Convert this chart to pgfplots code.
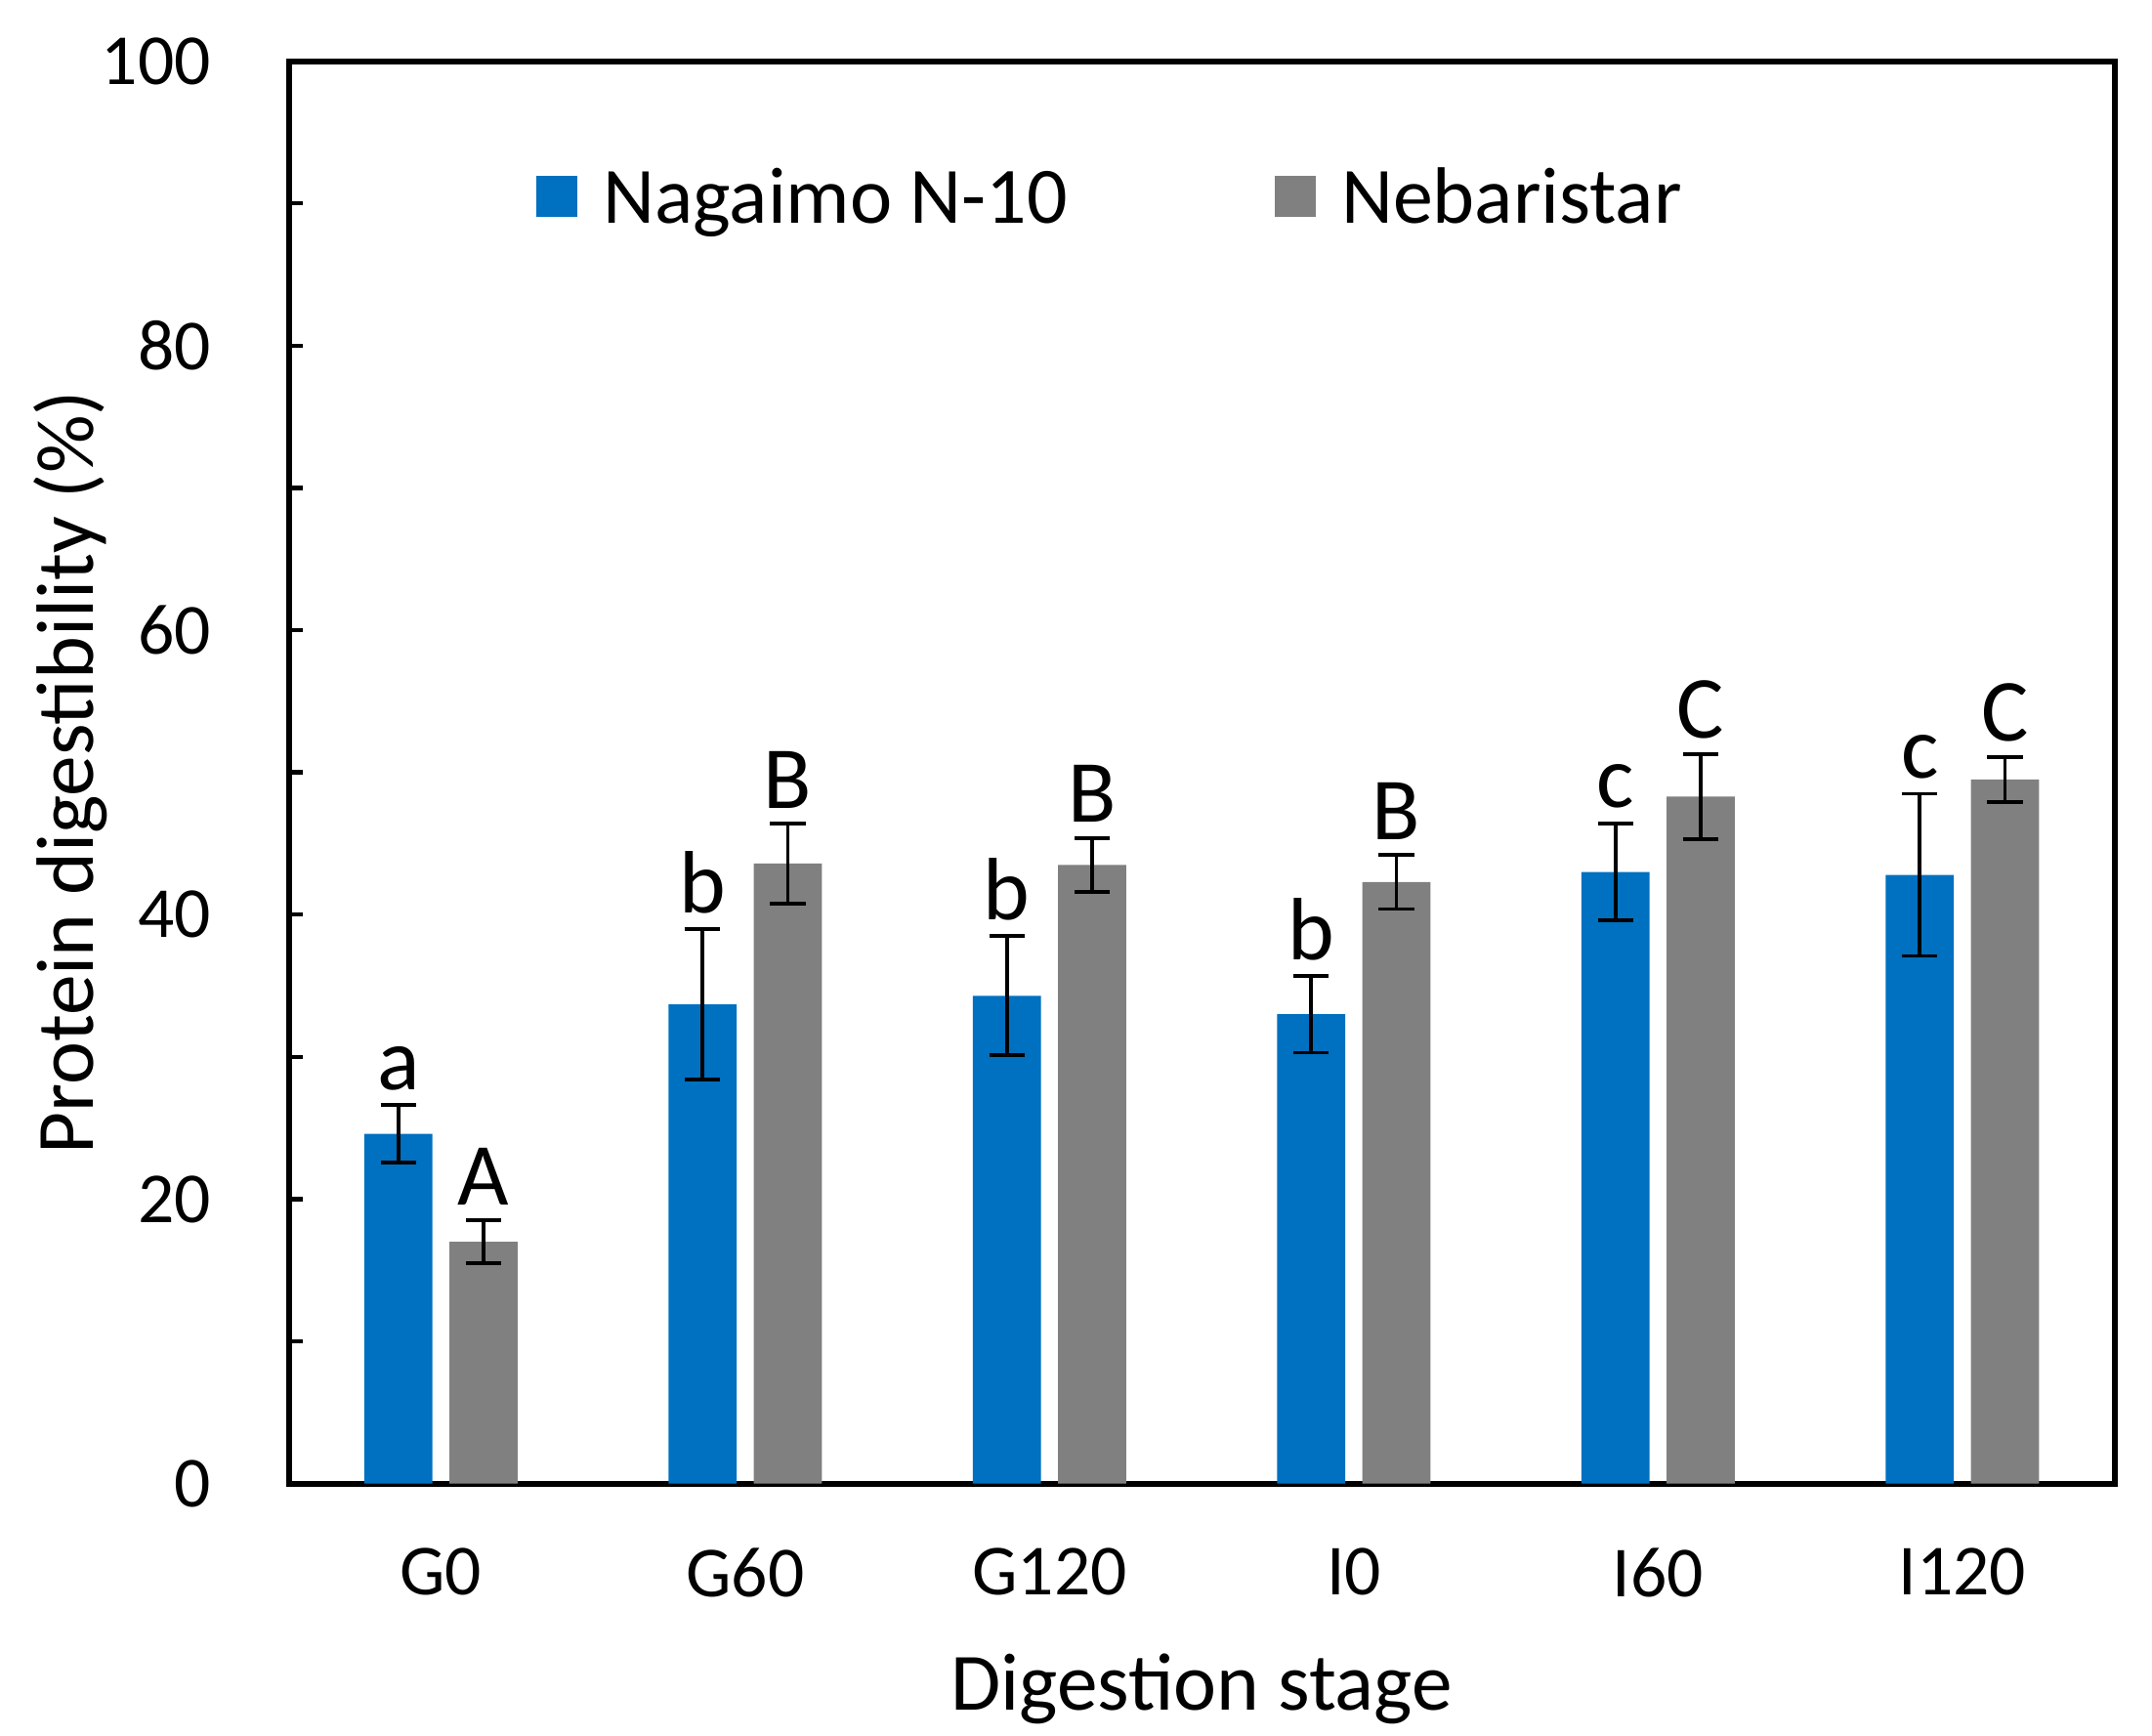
\documentclass[border=0pt]{standalone}
\usepackage{pgfplots}
\usepackage{pgfplotstable}
\usepackage{fontspec}
\setmainfont{Carlito}
\pgfplotsset{compat=1.18}

\definecolor{nagblue}{HTML}{0070C0}
\definecolor{nebgray}{HTML}{808080}

% stage index, mean, error, letter
\pgfplotstableread{
x y err lab
0 24.6 2.0 a
1 33.7 5.3 b
2 34.3 4.2 b
3 33.0 2.7 b
4 43.0 3.4 c
5 42.8 5.7 c
}\nagaimo
\pgfplotstableread{
x y err lab
0 17.0 1.5 A
1 43.6 2.8 B
2 43.5 1.9 B
3 42.3 1.9 B
4 48.3 3.0 C
5 49.5 1.6 C
}\nebaristar

\begin{document}
\begin{tikzpicture}
\begin{axis}[
  name=ax,
  width=13.4cm, height=10.44cm,
  scale only axis,
  xmin=-0.5, xmax=5.5,
  ymin=0, ymax=100,
  xtick={0,1,2,3,4,5},
  xticklabels={G0,G60,G120,I0,I60,I120},
  ytick={0,20,40,60,80,100},
  minor ytick={10,30,50,70,90},
  ytick pos=left,
  xtick style={draw=none},
  tick align=inside,
  major tick length=0.1cm,
  minor tick length=0.1cm,
  every tick/.style={black, line width=0.9pt},
  axis line style={line width=1.2pt},
  /pgf/number format/assume math mode=true,
  tick label style={font=\fontsize{15}{17}\selectfont},
  yticklabel style={xshift=-0.45cm},
  xticklabel style={yshift=-0.35cm},
  xlabel={Digestion stage},
  ylabel={Protein digestibility (\%)},
  label style={font=\fontsize{17}{20}\selectfont, inner sep=0pt},
  xlabel style={yshift=-0.29cm},
  ylabel style={yshift=-0.17cm},
  legend columns=2,
  legend style={at={(0.452,0.903)}, anchor=center, draw=none, fill=none,
    font=\fontsize{16.7}{20}\selectfont,
    /tikz/every odd column/.append style={column sep=0.12cm},
    /tikz/every even column/.append style={column sep=1.45cm}},
  legend image code/.code={\fill[#1] (0cm,-0.13cm) rectangle (0.3cm,0.17cm);},
  error bars/error bar style={black, line width=0.8pt},
  error bars/error mark options={rotate=90, black, mark size=0.13cm, line width=0.8pt},
]
\addplot[ybar, bar width=0.224, bar shift=0, fill=nagblue, draw=none,
  error bars/.cd, y dir=both, y explicit]
  table[x expr=\thisrow{x}-0.14, y=y, y error=err] {\nagaimo};
\addlegendentry{Nagaimo N-10}
\addplot[ybar, bar width=0.224, bar shift=0, fill=nebgray, draw=none,
  error bars/.cd, y dir=both, y explicit]
  table[x expr=\thisrow{x}+0.14, y=y, y error=err] {\nebaristar};
\addlegendentry{Nebaristar}

% significance letters above the error bars
\addplot[draw=none, mark=none, forget plot, nodes near coords,
  point meta=explicit symbolic,
  nodes near coords style={anchor=south, inner sep=3pt, font=\fontsize{18.5}{21}\selectfont}]
  table[x expr=\thisrow{x}-0.14, y expr=\thisrow{y}+\thisrow{err}, meta=lab] {\nagaimo};
\addplot[draw=none, mark=none, forget plot, nodes near coords,
  point meta=explicit symbolic,
  nodes near coords style={anchor=south, inner sep=3pt, font=\fontsize{18.5}{21}\selectfont}]
  table[x expr=\thisrow{x}+0.14, y expr=\thisrow{y}+\thisrow{err}, meta=lab] {\nebaristar};
\end{axis}
\path ([xshift=-2.12cm, yshift=-1.846cm]ax.south west) rectangle ([xshift=0.275cm, yshift=0.449cm]ax.north east);
\end{tikzpicture}
\end{document}
